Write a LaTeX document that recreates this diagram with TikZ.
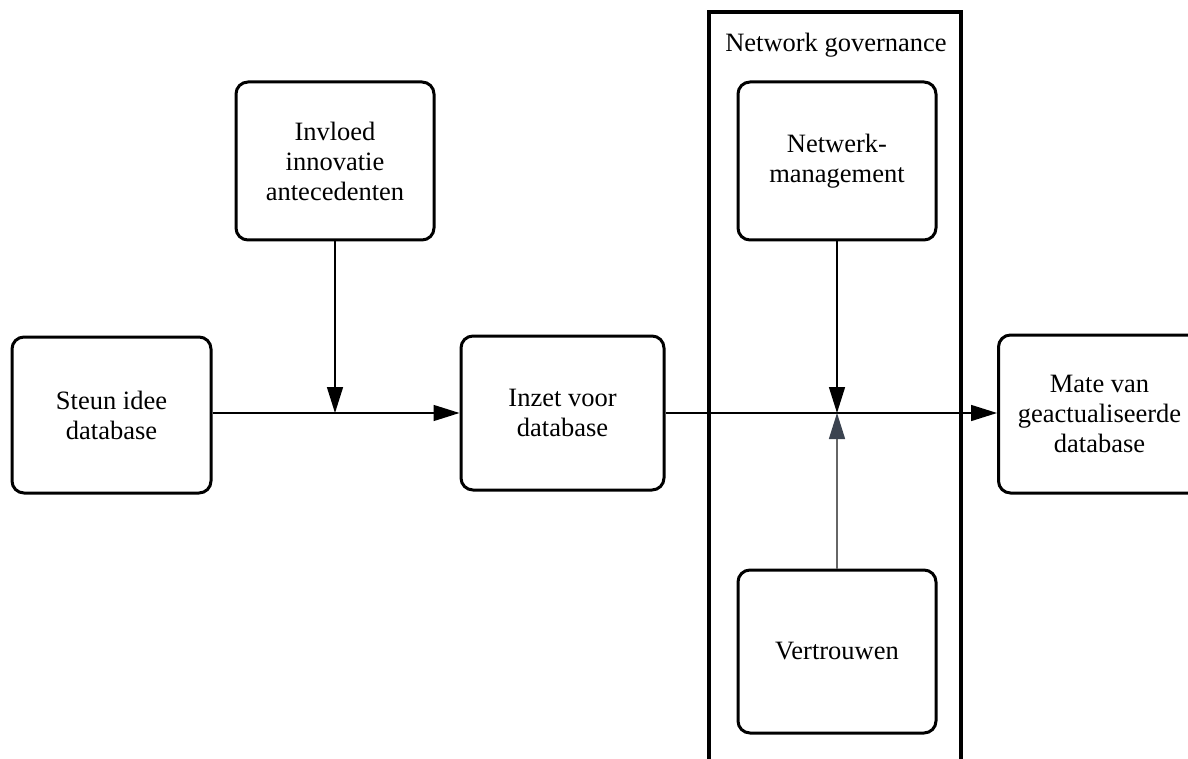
\documentclass[tikz,border=0pt]{standalone}
\usepackage{fontspec}
\setmainfont{LiberationSerif}[Extension=.ttf, UprightFont=*-Regular, BoldFont=*-Bold]
\usetikzlibrary{arrows.meta}
\definecolor{slate}{HTML}{3B4350}
\tikzset{
  box/.style={draw=black, line width=3pt, rounded corners=12pt, align=center,
    font=\fontsize{26.5}{30}\selectfont, inner sep=0pt},
  conn/.style={line width=1.5pt, -{Triangle[length=26pt,width=16pt]}},
  line/.style={line width=1.5pt}
}
\begin{document}
\begin{tikzpicture}[x=1pt,y=-1pt]
\useasboundingbox (0,0) rectangle (1188,759);
% container
\draw[line width=4pt] (709,800) -- (709,12) -- (961,12) -- (961,800);
\node[font=\fontsize{26.5}{30}\selectfont] (ng) at (836,45) {Network governance};
\node[box, minimum width=199pt, minimum height=156pt] (steun) at (111.5,415) {Steun idee\\database};
\node[box, minimum width=198pt, minimum height=158pt] (invloed) at (335,161) {Invloed\\innovatie\\antecedenten};
\node[box, minimum width=203pt, minimum height=154pt] (inzet) at (562.5,413) {Inzet voor\\database};
\node[box, minimum width=198pt, minimum height=158pt] (netwerk) at (837,161) {Netwerk-\\management};
\node[box, minimum width=198pt, minimum height=163pt] (vertrouwen) at (837,651.5) {Vertrouwen};
\node[box, minimum width=210pt, minimum height=158pt, anchor=west] (mate) at (997,414) {\hspace*{-8pt}Mate van\\\hspace*{-8pt}geactualiseerde\\\hspace*{-8pt}database};
\coordinate (j1) at (335,413);
\coordinate (j2) at (837,413);
\draw[conn] (steun.east |- j1) -- (inzet.west |- j1);
\draw[conn] (invloed.south) -- (j1);
\draw[conn] (inzet.east |- j2) -- (mate.west |- j2);
\draw[conn] (netwerk.south) -- (j2);
\draw[line width=1.5pt, draw=gray!80!black, -{Triangle[length=26pt,width=16pt,fill=slate,color=slate]}] (vertrouwen.north) -- (j2);
\end{tikzpicture}
\end{document}
